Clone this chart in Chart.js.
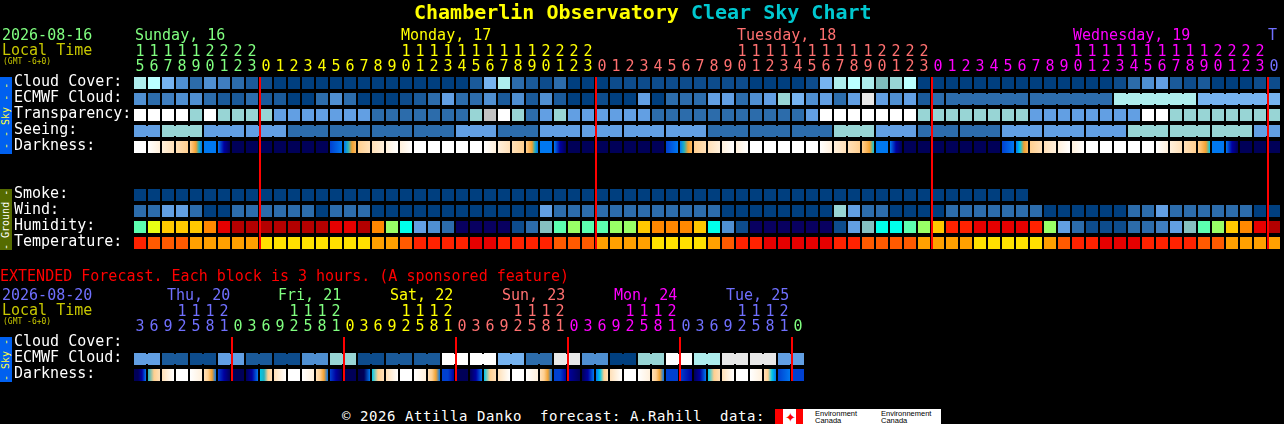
<!DOCTYPE html>
<html>
<head>
<meta charset="utf-8">
<title>Chamberlin Observatory Clear Sky Chart</title>
<script src="https://cdn.jsdelivr.net/npm/chart.js@4"></script>
<style>
	html, body { margin: 0; padding: 0; background: #000; overflow: hidden; width: 1284px; height: 424px; }
	canvas { position: absolute; left: 0; }
	.t { position: absolute; font: 15px/16px 'DejaVu Sans Mono', monospace; white-space: pre; }
	.small { font-size: 8px; line-height: 9px; color: #c8c800; }
	.band { position: absolute; left: 0; width: 12px; writing-mode: vertical-rl; transform: rotate(180deg);
		font: 10px/12px 'DejaVu Sans Mono', monospace; text-align: center; white-space: pre; }
	#logo { position: absolute; left: 775px; top: 409px; width: 166px; height: 15px; background: #fff; color: #000;
		font: 7.5px/7px 'Liberation Sans', sans-serif; overflow: hidden; }
	#logo div { position: absolute; }
</style>
</head>
<body>
<canvas id="main-chart" width="1284" height="260" style="top:0;width:1284px;height:260px"></canvas>
<canvas id="extended-chart" width="1284" height="132" style="top:260px;width:1284px;height:132px"></canvas>

<div class="t" style="left:414px;top:0;font-size:20px;line-height:24px;font-weight:bold"><span style="color:#ffff00">Chamberlin Observatory</span> <span style="color:#00c8d0">Clear Sky Chart</span></div>

<div class="t" style="left:2px;top:27px;color:#80ff80">2026-08-16</div>
<div class="t" style="left:2px;top:42px;color:#c8c800">Local Time</div>
<div class="t small" style="left:3px;top:57px">(GMT -6+0)</div>
<div class="t" style="left:135px;top:27px;color:#80ff80">Sunday, 16</div>
<div class="t" style="left:401px;top:27px;color:#ffff00">Monday, 17</div>
<div class="t" style="left:737px;top:27px;color:#ff7070">Tuesday, 18</div>
<div class="t" style="left:1073px;top:27px;color:#ff00ff">Wednesday, 19</div>
<div class="t" style="left:1268px;top:27px;color:#7070ff">T</div>

<div class="band" style="top:77px;height:77px;background:#0060f0;color:#ffff40">- - Sky - -</div>
<div class="band" style="top:189px;height:61px;background:#556b00;color:#fff">- Ground -</div>
<div class="band" style="top:337px;height:45px;background:#0060f0;color:#ffff40">- Sky -</div>

<div class="t" style="left:0;top:268px;color:#ff0000">EXTENDED Forecast. Each block is 3 hours. (A sponsored feature)</div>
<div class="t" style="left:2px;top:287px;color:#7070ff">2026-08-20</div>
<div class="t" style="left:2px;top:302px;color:#c8c800">Local Time</div>
<div class="t small" style="left:3px;top:317px">(GMT -6+0)</div>
<div class="t" style="left:167px;top:287px;color:#7070ff">Thu, 20</div>
<div class="t" style="left:278px;top:287px;color:#80ff80">Fri, 21</div>
<div class="t" style="left:390px;top:287px;color:#ffff00">Sat, 22</div>
<div class="t" style="left:502px;top:287px;color:#ff7070">Sun, 23</div>
<div class="t" style="left:614px;top:287px;color:#ff00ff">Mon, 24</div>
<div class="t" style="left:726px;top:287px;color:#7070ff">Tue, 25</div>

<div class="t" style="left:342px;top:408px;font-size:14px;color:#fff;letter-spacing:0.57px">© 2026 Attilla Danko  forecast: A.Rahill  data:</div>
<div id="logo">
	<div style="left:0;top:0;width:8px;height:15px;background:#f00"></div>
	<div style="left:21px;top:0;width:7px;height:15px;background:#f00"></div>
	<div style="left:10px;top:2px;color:#f00;font:13px/13px 'DejaVu Sans'">✦</div>
	<div style="left:40px;top:1px">Environment<br>Canada</div>
	<div style="left:106px;top:1px">Environnement<br>Canada</div>
</div>

<script>
// hours along the top of each block
const mainHours = [15,16,17,18,19,20,21,22,23,
	0,1,2,3,4,5,6,7,8,9,10,11,12,13,14,15,16,17,18,19,20,21,22,23,
	0,1,2,3,4,5,6,7,8,9,10,11,12,13,14,15,16,17,18,19,20,21,22,23,
	0,1,2,3,4,5,6,7,8,9,10,11,12,13,14,15,16,17,18,19,20,21,22,23,
	0];
const extendedHours = [3,6,9,12,15,18,21,
	0,3,6,9,12,15,18,21,
	0,3,6,9,12,15,18,21,
	0,3,6,9,12,15,18,21,
	0,3,6,9,12,15,18,21,
	0,3,6,9,12,15,18,21,
	0];

// column where each new day starts
const mainMidnights = [9, 33, 57, 81];
const extendedMidnights = [7, 15, 23, 31, 39, 47];

const mainRowLabels = ['Cloud Cover:', 'ECMWF Cloud:', 'Transparency:', 'Seeing:', 'Darkness:', '', '', 'Smoke:', 'Wind:', 'Humidity:', 'Temperature:'];
const extendedRowLabels = ['Cloud Cover:', 'ECMWF Cloud:', 'Darkness:'];

const cloudCover = [9,10,7,5,3,5,4,3,2,1,0,0,0,0,0,0,0,0,0,0,0,0,0,0,2,7,9,3,2,1,3,0,0,0,1,1,1,1,1,1,1,1,1,1,0,0,0,0,1,7,9,10,9,14,8,10,0,0,0,0,0,0,0,0,0,0,0,0,0,0,1,3,5,6,2,1,2,0,0,0,1,1];
const ecmwfCloud = [5,3,4,5,5,3,2,2,3,2,2,0,0,3,5,3,0,0,0,1,2,3,6,3,3,5,2,5,2,5,2,0,0,1,0,0,6,0,3,3,3,6,6,3,5,6,8,7,5,6,3,6,11,6,5,6,2,3,3,3,3,3,3,3,3,3,3,3,3,3,9,9,9,9,9,9,7,7,7,7,7,7];
const transparency = [12,12,12,12,8,12,8,8,8,8,6,6,6,6,6,6,6,3,3,3,3,3,3,3,8,13,12,8,3,6,8,6,6,6,6,6,6,3,3,3,3,3,3,3,3,3,3,3,6,12,12,12,12,12,12,12,8,8,8,8,8,8,8,8,6,6,6,6,6,6,6,6,12,12,8,8,8,8,8,8,8,8];
const seeing = [6,6,8,8,8,6,6,6,6,6,6,3,3,3,3,3,3,3,3,3,3,3,3,6,6,6,3,3,3,6,6,6,6,6,6,6,6,6,6,6,6,3,3,3,3,3,3,3,3,3,8,8,8,6,6,6,3,3,3,3,3,3,6,6,6,6,6,6,6,6,6,8,8,8,8,8,8,8,8,8,6,6];
const smoke = [0,0,0,0,0,0,0,0,0,0,0,0,0,0,0,0,0,0,0,0,0,0,0,0,0,0,0,0,0,0,0,0,0,0,0,0,0,0,0,0,0,0,0,0,0,0,0,0,0,0,0,0,0,0,0,0,0,0,0,0,0,0,0,0];
const wind = [3,3,6,6,3,0,0,3,3,3,3,3,3,0,3,3,3,0,0,0,0,0,0,0,0,0,0,0,0,6,3,3,3,3,3,3,3,3,3,3,3,3,0,0,0,0,0,0,0,0,8,6,3,3,0,0,0,0,3,3,3,3,3,3,3,0,0,0,0,0,0,3,3,6,3,3,3,3,3,3,0,0];
const humidity = ['h','f','e','e','e','d','b','a','a','a','a','a','a','a','b','b','a','d','g','i',6,5,3,'k','k','k','k',1,3,'j','h','g','h','h','g','g','e','d','d','d','e','i',5,1,'k','k','k','k','k','k',1,6,'j','i','i','h','g','e','c','c','b','b','b','b','c','g',6,3,1,1,1,3,3,4,6,'j','h','g','e','d','b','a'];
const temperature = ['c','l','l','l','m','m','m','m','m','n','n','n','n','n','n','n','n','m','m','l','c','c','c','c','b','b','c','c','c','c','l','l','l','m','m','m','m','n','n','n','n','m','l','c','c','b','b','b','b','b','c','c','l','l','l','l','m','m','m','m','n','n','n','n','n','m','l','c','c','b','b','b','c','c','c','c','l','l','m','m','m','m'];

// each cell of darkness fades through these shades from left to right
const darkness = ['W','WC','CP','PQ','QOGTB','B','BEN','N','N','N','N','N','N','N','DB','BTGO','QP','PC','CW','CW','W','W','W','W','W',
	'WC','CP','PQ','QOGTB','B','BEN','N','N','N','N','N','N','N','DB','BTGO','QP','PC','CW','CW','W','W','W','W','W',
	'WC','CP','PQ','QOGS','B','BEN','N','N','N','N','N','N','N','DB','BSGO','QP','PC','CW','CW','W','W','W','W','W',
	'WC','CP','PQ','QOGS','B','BEN','N','N','N'];

const extendedCloud = [6,6,2,2,1,1,6,6,2,2,1,1,5,5,8,8,1,1,2,2,2,2,12,12,12,12,7,7,3,3,11,11,5,5,0,0,8,8,12,12,9,9,11,11,11,11,6,6];
const extendedDarkness = ['NNEB','TQP','PCW','W','WC','PQGB','DEN','N','NEB','STQP','PCW','W','WC','PQGB','DEN','N','MNB','SQP','PCW','W','WC','PQGB','DDE','N',
	'NEB','SQP','PCW','W','WC','PQGB','DDE','EN','NEB','BSQP','PCW','W','WC','PQGB','DDD','DE','NEB','SQP','PCW','W','WC','PQSB','DB','DD'];

// runs of columns that come from one forecast value
const ecmwfRuns = [[58,63],[64,69],[70,75],[76,81]];
const seeingRuns = [[0,1],[2,4],[5,7],[8,10],[11,13],[14,16],[17,19],[20,22],[23,25],[26,28],[29,31],[32,34],[35,37],[38,40],[41,43],[44,46],[47,49],[50,52],[53,55],[56,58],[59,61],[62,64],[65,67],[68,70],[71,73],[74,76],[77,79],[80,81]];
const extendedCloudRuns = [[0,1],[2,3],[4,5],[6,7],[8,9],[10,11],[12,13],[14,15],[16,17],[18,19],[20,21],[22,23],[24,25],[26,27],[28,29],[30,31],[32,33],[34,35],[36,37],[38,39],[40,41],[42,43],[44,45],[46,47]];

const shades = {
	0: '#003f7f', 1: '#0d4c8c', 2: '#1a5a9a', 3: '#2c6cab', 4: '#3f7ebf', 5: '#4f8fd1', 6: '#629fe3', 7: '#76b3f0',
	8: '#98d5d5', 9: '#aeeded', 10: '#baffff', 11: '#e8e8e8', 12: '#ffffff', 13: '#c3c3c3', 14: '#7fbcbc',
	a: '#b30000', b: '#e60000', c: '#ff2200', d: '#ff8800', e: '#ffc800', f: '#e8ff14', g: '#99ff66', h: '#5cffb0',
	i: '#00ffea', j: '#85c0c0', k: '#080060', l: '#ff5a00', m: '#ffa000', n: '#ffe000'
};
const darkShades = {
	W: '#ffffff', C: '#fff0dc', P: '#ffe0b8', Q: '#ffcf90', O: '#fbb860', G: '#f0a030', T: '#20b0c0', S: '#00c8e8',
	B: '#0078f0', D: '#0040d0', E: '#0000a0', N: '#000058', M: '#00004c'
};
const mainDayColors = ['#80ff80', '#ffff00', '#ff7070', '#ff00ff', '#7070ff'];
const extendedDayColors = ['#7070ff', '#80ff80', '#ffff00', '#ff7070', '#ff00ff', '#7070ff', '#80ff80'];

const cellHalf = 0.375;
const linkHalf = 0.3125;

function colorRow (values, row, label) {
	return {
		label: label,
		data: values.map((v) => [row - cellHalf, row + cellHalf]),
		backgroundColor: values.map((v) => shades[v])
	};
}

// fills the gap between cells that belong to the same forecast value
function linkRow (values, runs, row, label) {
	const data = [];
	const colors = [];
	runs.forEach(([first, last]) => {
		for (let i = first; i < last; i++) {
			data.push({ x: i + 0.5, y: [row - linkHalf, row + linkHalf] });
			colors.push(shades[values[i]]);
		}
	});
	return { label: label, xAxisID: 'xLink', barThickness: 4, data: data, backgroundColor: colors };
}

function darknessRow (values, row) {
	return {
		label: 'Darkness',
		data: values.map(() => [row - cellHalf, row + cellHalf]),
		backgroundColor: (ctx) => {
			if (ctx.dataIndex === undefined) return '#000';
			const stops = values[ctx.dataIndex].split('');
			if (stops.length === 1) return darkShades[stops[0]];
			const x = ctx.chart.scales.x.getPixelForValue(ctx.dataIndex);
			// scales are not placed yet on the very first pass
			if (!isFinite(x)) return darkShades[stops[0]];
			const gradient = ctx.chart.ctx.createLinearGradient(x - 6, 0, x + 6, 0);
			stops.forEach((s, i) => gradient.addColorStop(i / (stops.length - 1), darkShades[s]));
			return gradient;
		}
	};
}

const midnightLines = {
	id: 'midnightLines',
	afterDatasetsDraw (chart, args, opts) {
		const { ctx, chartArea, scales } = chart;
		ctx.save();
		ctx.fillStyle = '#ff0000';
		opts.columns.forEach((c) => {
			const x = scales.x.getPixelForValue(c) - 7;
			ctx.fillRect(x, chartArea.top + 2, 2, chartArea.height - 4);
		});
		ctx.restore();
	}
};

function buildChart (id, hours, midnights, dayColors, rowLabels, datasets) {
	const colorAt = (index) => {
		let day = 0;
		midnights.forEach((m) => { if (index >= m) day++; });
		return dayColors[day];
	};
	const labels = hours.map((h) => [h >= 10 ? String(Math.floor(h / 10)) : '', String(h % 10)]);
	const font = { family: "'DejaVu Sans Mono', monospace", size: 15, lineHeight: 1 };
	const rightPad = 1284 - 133 - hours.length * 14;

	return new Chart(document.getElementById(id), {
		type: 'bar',
		data: { labels: labels, datasets: datasets },
		plugins: [midnightLines],
		options: {
			responsive: false,
			animation: false,
			events: [],
			devicePixelRatio: 1,
			layout: { padding: { left: 14, right: rightPad, top: 0, bottom: 9 } },
			datasets: { bar: { grouped: false, barThickness: 12, borderWidth: 0, inflateAmount: 0, borderSkipped: false } },
			plugins: { legend: { display: false }, tooltip: { enabled: false }, midnightLines: { columns: midnights } },
			scales: {
				x: {
					position: 'top',
					grid: { display: false },
					border: { display: false },
					afterFit: (scale) => { scale.height = 75; },
					ticks: {
						autoSkip: false,
						maxRotation: 0,
						padding: -8,
						font: font,
						color: (ctx) => colorAt(ctx.index)
					}
				},
				xLink: {
					type: 'linear',
					axis: 'x',
					display: false,
					offset: false,
					min: -0.5,
					max: hours.length - 0.5
				},
				y: {
					reverse: true,
					min: -0.5,
					max: rowLabels.length - 0.5,
					grid: { display: false },
					border: { display: false },
					afterBuildTicks: (scale) => { scale.ticks = rowLabels.map((l, i) => ({ value: i })); },
					afterFit: (scale) => { scale.width = 119; },
					ticks: {
						autoSkip: false,
						crossAlign: 'far',
						padding: 0,
						labelOffset: -1,
						font: font,
						color: '#ffffff',
						callback: (value) => rowLabels[value]
					}
				}
			}
		}
	});
}

buildChart('main-chart', mainHours, mainMidnights, mainDayColors, mainRowLabels, [
	colorRow(cloudCover, 0, 'Cloud Cover'),
	colorRow(ecmwfCloud, 1, 'ECMWF Cloud'),
	linkRow(ecmwfCloud, ecmwfRuns, 1, 'ECMWF Cloud runs'),
	colorRow(transparency, 2, 'Transparency'),
	colorRow(seeing, 3, 'Seeing'),
	linkRow(seeing, seeingRuns, 3, 'Seeing runs'),
	darknessRow(darkness, 4),
	colorRow(smoke, 7, 'Smoke'),
	colorRow(wind, 8, 'Wind'),
	colorRow(humidity, 9, 'Humidity'),
	colorRow(temperature, 10, 'Temperature')
]);

buildChart('extended-chart', extendedHours, extendedMidnights, extendedDayColors, extendedRowLabels, [
	colorRow(extendedCloud, 1, 'ECMWF Cloud'),
	linkRow(extendedCloud, extendedCloudRuns, 1, 'ECMWF Cloud runs'),
	darknessRow(extendedDarkness, 2)
]);
</script>
</body>
</html>
